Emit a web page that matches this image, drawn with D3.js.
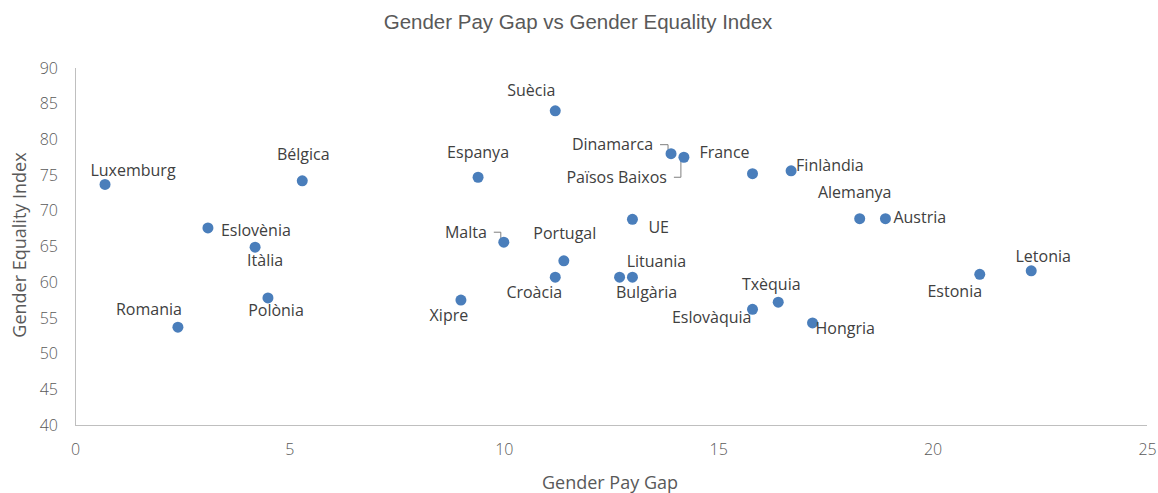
<!DOCTYPE html>
<html>
<head>
<meta charset="utf-8">
<script src="https://d3js.org/d3.v7.min.js"></script>
<style>
body { margin: 0; background: #fff; }
.axis path, .axis line { fill: none; stroke: #bfbfbf; shape-rendering: crispEdges; }
.axis text { fill: #595959; font-family: "Open Sans", sans-serif; font-weight: 300; font-size: 16px; }
.lbl { fill: #404040; font-family: "Open Sans", sans-serif; font-size: 16px; }
.leader { fill: none; stroke: #7f7f7f; stroke-width: 1; }
</style>
</head>
<body>
<script>
// values
var countries = ["Luxemburg", "Bélgica", "Eslovènia", "Itàlia", "Polònia", "Romania", "Suècia", "Espanya",
  "Dinamarca", "Països Baixos", "France", "Finlàndia", "Alemanya", "Austria", "UE", "Malta", "Portugal",
  "Croàcia", "Bulgària", "Lituania", "Xipre", "Eslovàquia", "Txèquia", "Hongria", "Estonia", "Letonia"];
var payGap = [0.7, 5.3, 3.1, 4.2, 4.5, 2.4, 11.2, 9.4,
  13.9, 14.2, 15.8, 16.7, 18.3, 18.9, 13.0, 10.0, 11.4,
  11.2, 12.7, 13.0, 9.0, 15.8, 16.4, 17.2, 21.1, 22.3];
var equalityIndex = [73.7, 74.2, 67.6, 64.9, 57.8, 53.7, 84.0, 74.7,
  78.0, 77.5, 75.2, 75.6, 68.9, 68.9, 68.8, 65.6, 63.0,
  60.7, 60.7, 60.7, 57.5, 56.2, 57.2, 54.3, 61.1, 61.6];
var xTicks = [0, 5, 10, 15, 20, 25];
var yTicks = [40, 45, 50, 55, 60, 65, 70, 75, 80, 85, 90];

// where each data label sits relative to its point
var labelPos = {
  "Luxemburg": [28, -14, "middle"], "Bélgica": [1, -26, "middle"], "Eslovènia": [13, 2, "start"],
  "Itàlia": [10, 13, "middle"], "Polònia": [8, 12, "middle"], "Romania": [-29, -18, "middle"],
  "Suècia": [-24, -20, "middle"], "Espanya": [0, -25, "middle"], "Dinamarca": [-18, -9, "end", true],
  "Països Baixos": [-17, 20, "end", true], "France": [-28, -21, "middle"], "Finlàndia": [5, -5, "start"],
  "Alemanya": [-5, -26, "middle"], "Austria": [8, -1, "start"], "UE": [16, 8, "start"],
  "Malta": [-17, -10, "end", true], "Portugal": [1, -27, "middle"], "Croàcia": [-21, 15, "middle"],
  "Bulgària": [27, 15, "middle"], "Lituania": [24, -16, "middle"], "Xipre": [-12, 15, "middle"],
  "Eslovàquia": [-1, 8, "end"], "Txèquia": [-7, -18, "middle"], "Hongria": [3, 6, "start"],
  "Estonia": [-25, 17, "middle"], "Letonia": [12, -14, "middle"]
};

var W = 1158, H = 493;
var margin = {top: 68, right: 11, bottom: 68, left: 75};
var width = W - margin.left - margin.right,
    height = H - margin.top - margin.bottom;

var data = countries.map(function(c, i) {
  return {name: c, x: payGap[i], y: equalityIndex[i]};
});

var svg = d3.select("body").append("svg")
    .attr("width", W).attr("height", H);

svg.append("text")
    .attr("x", 578).attr("y", 29)
    .attr("text-anchor", "middle")
    .attr("font-family", "Liberation Sans, Arial, sans-serif")
    .attr("font-size", "20.5px")
    .attr("fill", "#595959")
    .text("Gender Pay Gap vs Gender Equality Index");

var g = svg.append("g")
    .attr("transform", "translate(" + margin.left + "," + margin.top + ")");

var x = d3.scaleLinear().domain([0, 25]).range([0, width]);
var y = d3.scaleLinear().domain([40, 90]).range([height, 0]);

// x axis
var xa = g.append("g")
    .attr("class", "axis")
    .attr("transform", "translate(0," + height + ")")
    .call(d3.axisBottom(x).tickValues(xTicks).tickSize(0).tickPadding(19));
xa.select(".domain").attr("d", "M0,0.5H" + width);

// y axis
var ya = g.append("g")
    .attr("class", "axis")
    .call(d3.axisLeft(y).tickValues(yTicks).tickSize(0).tickPadding(17));
ya.select(".domain").attr("d", "M0.5,0V" + height);

// axis titles
svg.append("text")
    .attr("x", 610).attr("y", 489)
    .attr("text-anchor", "middle")
    .attr("font-family", "Open Sans, sans-serif")
    .attr("font-size", "18px")
    .attr("fill", "#595959")
    .text("Gender Pay Gap");

svg.append("text")
    .attr("transform", "translate(26,245) rotate(-90)")
    .attr("text-anchor", "middle")
    .attr("font-family", "Open Sans, sans-serif")
    .attr("font-size", "18px")
    .attr("fill", "#595959")
    .text("Gender Equality Index");

// leader lines
g.selectAll(".leader")
  .data(data.filter(function(d) { return labelPos[d.name][3]; }))
  .enter().append("path")
    .attr("class", "leader")
    .attr("d", function(d) {
      var p = labelPos[d.name], cx = x(d.x), cy = y(d.y);
      var ly = cy + p[1];
      return "M" + (cx + p[0] + 7) + "," + ly + "H" + (cx - 3) + "V" + (cy + (p[1] < 0 ? -4 : 4));
    });

// points
g.selectAll("circle")
  .data(data)
  .enter().append("circle")
    .attr("cx", function(d) { return x(d.x); })
    .attr("cy", function(d) { return y(d.y); })
    .attr("r", 5.5)
    .attr("fill", "#4a7ebb");

// data labels
g.selectAll(".lbl")
  .data(data)
  .enter().append("text")
    .attr("class", "lbl")
    .attr("x", function(d) { return x(d.x) + labelPos[d.name][0]; })
    .attr("y", function(d) { return y(d.y) + labelPos[d.name][1]; })
    .attr("dy", "0.35em")
    .attr("text-anchor", function(d) { return labelPos[d.name][2]; })
    .text(function(d) { return d.name; });
</script>
</body>
</html>
